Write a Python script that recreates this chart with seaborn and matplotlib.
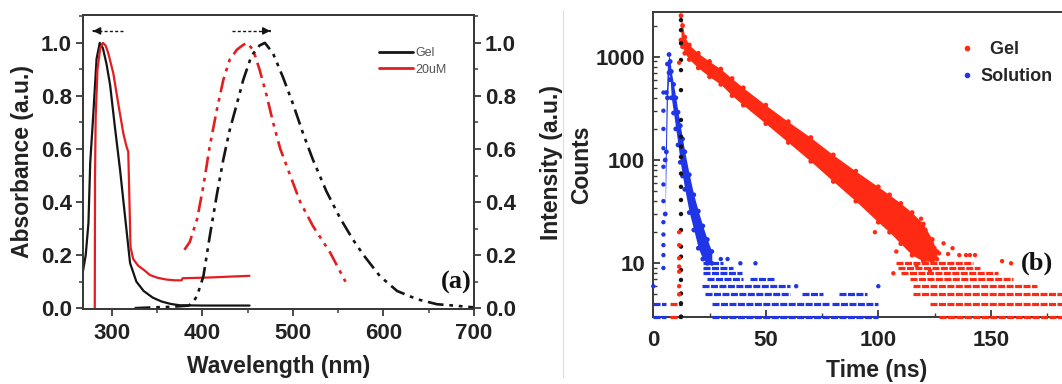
import numpy as np
import pandas as pd
import matplotlib
matplotlib.use("Agg")
import matplotlib.pyplot as plt
import matplotlib.ticker as mticker
from matplotlib.lines import Line2D
import seaborn as sns

# ---------------- (a) absorbance / emission spectra ----------------
abs_gel_wl = [268, 271, 274, 276, 279, 283, 286.5, 290, 294, 298, 303, 309, 314, 320, 327,
              335, 345, 355, 365, 375, 400, 425, 452]
abs_gel = [0.14, 0.2, 0.32, 0.55, 0.71, 0.94, 1.0, 0.98, 0.92, 0.84, 0.69, 0.52, 0.36, 0.17,
           0.10, 0.065, 0.04, 0.025, 0.016, 0.011, 0.01, 0.01, 0.01]

abs_20um_wl = [281, 281.3, 282, 284, 287, 290, 293, 296, 301.5, 307, 312.5, 316, 318, 319,
               320.5, 323.5, 329, 335, 342, 350, 360, 370, 377, 378, 390, 410, 430, 452]
abs_20um = [0.0, 0.5, 0.72, 0.9, 0.98, 1.0, 0.99, 0.96, 0.885, 0.77, 0.66, 0.61, 0.59, 0.45,
            0.23, 0.185, 0.16, 0.145, 0.125, 0.115, 0.108, 0.105, 0.105, 0.113, 0.114, 0.116,
            0.119, 0.122]

em_gel_wl = [325, 345, 365, 385, 390, 394, 401, 408, 416, 423, 430, 438, 445, 454, 463, 469,
             478, 489, 500, 511, 522, 537, 552, 566, 578, 596, 615, 637, 659, 681, 700]
em_gel = [0.0, 0.003, 0.005, 0.01, 0.025, 0.046, 0.12, 0.27, 0.43, 0.56, 0.67, 0.77, 0.86,
          0.95, 0.99, 1.0, 0.96, 0.87, 0.77, 0.66, 0.56, 0.44, 0.34, 0.26, 0.2, 0.121, 0.065,
          0.034, 0.015, 0.009, 0.003]

em_20um_wl = [380, 386, 394, 401, 408, 416, 423, 430, 438, 444, 449, 456, 463, 471, 478, 486,
              497, 508, 522, 541, 558]
em_20um = [0.22, 0.25, 0.335, 0.46, 0.61, 0.75, 0.86, 0.936, 0.974, 0.99, 1.0, 0.974, 0.9,
           0.8, 0.7, 0.6, 0.5, 0.4, 0.31, 0.21, 0.1]

# peak-shift arrows (start, end) in nm
abs_shift = (312, 279)
em_shift = (433, 475)

# ---------------- (b) fluorescence decay ----------------
gel_t = [12.3, 13, 14, 16, 20, 25, 30, 35, 40, 50, 60, 70, 80, 90, 100, 105, 110, 115, 120,
         124, 126]
gel_hi = [2500, 2000, 1550, 1300, 1080, 900, 760, 615, 500, 340, 235, 165, 112, 78, 55, 46,
          38, 31, 24, 17, 13]
gel_lo = [1450, 1250, 1080, 940, 780, 640, 540, 420, 340, 225, 148, 97, 62, 40, 25, 20, 15.5,
          12, 10.5, 10.5, 11]

sol_t = [5.3, 5.8, 6.3, 7.0, 7.5, 8, 9, 10, 11, 12, 13, 14, 16, 18, 20, 22, 24, 26]
sol_hi = [100, 450, 850, 1050, 900, 720, 540, 400, 290, 215, 160, 120, 72, 46, 32, 23, 17, 13]
sol_lo = [30, 120, 400, 700, 600, 400, 285, 200, 140, 95, 70, 52, 31, 21, 14, 11, 10, 10]

# count levels populated in the tails: (counts, t_start, t_end)
gel_rows = [(10, 108, 142), (9, 108.6, 145), (8, 110, 153), (7, 114, 160), (6, 115.5, 170.5),
            (5, 115.5, 199), (4, 123, 199), (3, 127, 199), (4, 7.5, 11.5), (3, 7.5, 11.5)]
sol_rows = [(10, 22.2, 31), (9, 22.2, 35.6), (8, 22, 39.5), (7, 23.7, 40), (7, 43, 54),
            (6, 21.5, 60.6), (5, 23, 60.6), (5, 66, 75.5), (5, 82.5, 95), (4, 26, 78),
            (4, 79.6, 100), (3, 26, 100), (4, 0, 5.5), (3, 0, 5.5)]
irf_rows = [(4, 11.6, 12.8), (3, 11.6, 12.8)]

# isolated counts
irf_t = [12.3] * 22
irf_counts = [2265, 1810, 1350, 930, 742, 475, 244, 168, 135, 107, 74, 55, 41, 30, 21, 14.5,
              11.6, 8.6, 6.9, 5.1, 4.1, 3.05]
gel_pts_t = [11.5, 11.5, 11.5, 11.5, 11.5, 11.5, 11.5, 11.5, 98.5, 106.7, 112, 115.6, 118,
             122, 129, 131, 133, 136, 139, 140.7, 143, 155, 159, 119, 121, 125, 127, 117,
             123, 110, 108]
gel_pts_c = [875, 15, 11.2, 9.3, 8.3, 6, 5, 20, 20, 8, 20, 24, 19, 17, 15.6, 12.3, 14, 12, 12,
             12, 12, 10.5, 10, 27, 21, 14, 12.5, 9.5, 8.5, 29, 13]
sol_pts_t = [4.5, 4.5, 4.5, 4.5, 4.5, 4.5, 4.5, 4.5, 4.5, 4.5, 4.5, 4.5, 0, 30, 33, 38.7,
             45.4, 63.5, 100]
sol_pts_c = [9, 12, 15, 19, 25, 40, 58, 86, 130, 200, 300, 450, 6, 11, 11, 10, 10, 6, 6]

RED_A = "#e41e1e"
RED_B = "#ff2a14"
BLUE_B = "#1f35e6"
INK = "#151515"
SPINE = "#3a3a3a"

sns.set_theme(style="ticks")
plt.rcParams["font.family"] = ["Liberation Sans", "DejaVu Sans"]
plt.rcParams["axes.edgecolor"] = SPINE
plt.rcParams["axes.linewidth"] = 1.4

W, H = 1062, 384
fig = plt.figure(figsize=(W / 100, H / 100), dpi=100)


def fx(px):
    return px / W


def fy(py):
    return 1 - py / H


# ------------ panel (a) ------------
axa = fig.add_axes([fx(83), fy(309), fx(474 - 83), (309 - 15) / H])
axr = axa.twinx()

df_abs = pd.concat([
    pd.DataFrame({"wl": abs_gel_wl, "val": abs_gel, "sample": "Gel"}),
    pd.DataFrame({"wl": abs_20um_wl, "val": abs_20um, "sample": "20uM"}),
])
sns.lineplot(data=df_abs, x="wl", y="val", hue="sample", palette={"Gel": INK, "20uM": RED_A},
             sort=False, estimator=None, lw=1.6, ax=axa, legend=False)

ddot = (0, (6, 2.2, 1.4, 2.2, 1.4, 2.2))
sns.lineplot(x=em_gel_wl, y=em_gel, color=INK, lw=1.9, linestyle=ddot, sort=False,
             estimator=None, ax=axr)
sns.lineplot(x=em_20um_wl, y=em_20um, color=RED_A, lw=1.9, linestyle=ddot, sort=False,
             estimator=None, ax=axr)

for ax in (axa, axr):
    ax.set_xlim(268, 700)
    ax.set_ylim(-0.003, 1.105)
    ax.yaxis.set_major_locator(mticker.MultipleLocator(0.2))
    ax.yaxis.set_minor_locator(mticker.MultipleLocator(0.1))
    ax.yaxis.set_major_formatter(mticker.FormatStrFormatter("%.1f"))

axa.xaxis.set_major_locator(mticker.MultipleLocator(100))
axa.xaxis.set_minor_locator(mticker.MultipleLocator(50))
axa.tick_params(axis="both", which="major", direction="out", length=5, width=1.3,
                color=SPINE, labelsize=16, pad=3)
axa.tick_params(axis="x", which="major", pad=5)
axa.tick_params(axis="both", which="minor", direction="out", length=3, width=1.1, color=SPINE)
axr.tick_params(axis="y", which="major", direction="out", length=5, width=1.3,
                color=SPINE, labelsize=16, pad=3)
axr.tick_params(axis="y", which="minor", direction="out", length=3, width=1.1, color=SPINE)
for lab in axa.get_xticklabels() + axa.get_yticklabels() + axr.get_yticklabels():
    lab.set_fontweight("bold")
    lab.set_color("#222222")

axa.set_xlabel("Wavelength (nm)", fontsize=16.5, fontweight="bold", color="#222222", labelpad=8)
axa.set_ylabel("Absorbance (a.u.)", fontsize=16.5, fontweight="bold", color="#222222", labelpad=5)
axr.set_ylabel("Intensity (a.u.)", fontsize=16.5, fontweight="bold", color="#222222",
               labelpad=17)
axr.set_xlabel("")

leg_a = axa.legend(handles=[Line2D([], [], color=INK, lw=2), Line2D([], [], color=RED_A, lw=2)],
                   labels=["Gel", "20uM"], loc="upper left",
                   bbox_to_anchor=((373 - 83) / 391, (309 - 41) / 294), frameon=False,
                   fontsize=9, handlelength=2.7, handletextpad=0.2, borderpad=0,
                   labelspacing=0.35)
for t in leg_a.get_texts():
    t.set_color("#555555")

arrow_y = 1.045
for x0, x1 in (abs_shift, em_shift):
    axa.plot([x0, x1], [arrow_y, arrow_y], color=INK, lw=1.0, ls=(0, (2.2, 1.6)))
    axa.annotate("", xy=(x1, arrow_y), xytext=(x1 - 0.5 * np.sign(x1 - x0), arrow_y),
                 arrowprops=dict(arrowstyle="-|>", color=INK, lw=1.0, mutation_scale=11))

fig.text(fx(456), fy(282), "(a)", fontsize=19, fontweight="bold", family="Liberation Serif",
         ha="center", va="center", color="#111111")

# ------------ panel (b) ------------
axb = fig.add_axes([fx(653.3), fy(317.3), fx(1100 - 653.3), (317.3 - 12) / H])
axb.set_yscale("log")
axb.set_xlim(0, (1100 - 653.3) / 2.25)
axb.set_ylim(3.0, 2710)

axb.fill_between(gel_t, gel_lo, gel_hi, color=RED_B, lw=0, zorder=2)
axb.fill_between(sol_t, sol_lo, sol_hi, color=BLUE_B, lw=0, zorder=2)
edge = pd.DataFrame({
    "t": gel_t + gel_t + sol_t + sol_t,
    "c": gel_hi + gel_lo + sol_hi + sol_lo,
    "s": ["Gel"] * (2 * len(gel_t)) + ["Solution"] * (2 * len(sol_t)),
})
sns.scatterplot(data=edge, x="t", y="c", hue="s", palette={"Gel": RED_B, "Solution": BLUE_B},
                s=12, linewidth=0, ax=axb, legend=False, zorder=3)

row_style = dict(lw=2.3, linestyles=[(0, (2.2, 0.45))], zorder=3, clip_on=False)
for rows, col in ((gel_rows, RED_B), (sol_rows, BLUE_B), (irf_rows, INK)):
    lv, t0, t1 = zip(*rows)
    axb.hlines(lv, t0, t1, colors=col, **row_style)

pts = pd.DataFrame({
    "t": irf_t + gel_pts_t + sol_pts_t,
    "c": irf_counts + gel_pts_c + sol_pts_c,
    "s": ["IRF"] * len(irf_t) + ["Gel"] * len(gel_pts_t) + ["Solution"] * len(sol_pts_t),
})
sns.scatterplot(data=pts, x="t", y="c", hue="s",
                palette={"IRF": INK, "Gel": RED_B, "Solution": BLUE_B},
                s=10, linewidth=0, ax=axb, legend=False, zorder=4, clip_on=False)

axb.xaxis.set_major_locator(mticker.MultipleLocator(50))
axb.xaxis.set_minor_locator(mticker.MultipleLocator(25))
axb.yaxis.set_major_locator(mticker.FixedLocator([10, 100, 1000]))
axb.yaxis.set_major_formatter(mticker.FuncFormatter(lambda v, p: f"{int(round(v))}"))
axb.yaxis.set_minor_locator(mticker.LogLocator(base=10, subs=np.arange(2, 10)))
axb.yaxis.set_minor_formatter(mticker.NullFormatter())
axb.tick_params(axis="both", which="major", direction="in", length=5, width=1.3,
                color=SPINE, labelsize=16, pad=6)
axb.tick_params(axis="x", which="major", pad=9)
axb.tick_params(axis="both", which="minor", direction="in", length=3, width=1.0, color=SPINE)
for lab in axb.get_xticklabels() + axb.get_yticklabels():
    lab.set_fontweight("bold")
    lab.set_color("#222222")
axb.spines["right"].set_visible(False)
axb.set_xlabel("Time (ns)", fontsize=16.5, fontweight="bold", color="#222222", labelpad=6)
axb.set_ylabel("Counts", fontsize=16.5, fontweight="bold", color="#222222", labelpad=2)

leg_b = axb.legend(handles=[Line2D([], [], ls="", marker="o", ms=3, color=RED_B),
                            Line2D([], [], ls="", marker="o", ms=3, color=BLUE_B)],
                   labels=["  Gel", "Solution"], loc="upper left",
                   bbox_to_anchor=(fx(952), fy(32)), bbox_transform=fig.transFigure,
                   frameon=False, prop={"size": 13, "weight": "bold"}, handlelength=0.7,
                   handletextpad=0.35, borderpad=0, labelspacing=0.55)

fig.text(fx(1021), fy(263), "(b)", fontsize=19, fontweight="bold", family="Liberation Serif",
         ha="left", va="center", color="#111111")

# thin divider between the panels
fig.add_artist(Line2D([fx(563), fx(563)], [fy(377), fy(10)], color="#dddddd", lw=0.8))

fig.savefig("out.png", dpi=100)
